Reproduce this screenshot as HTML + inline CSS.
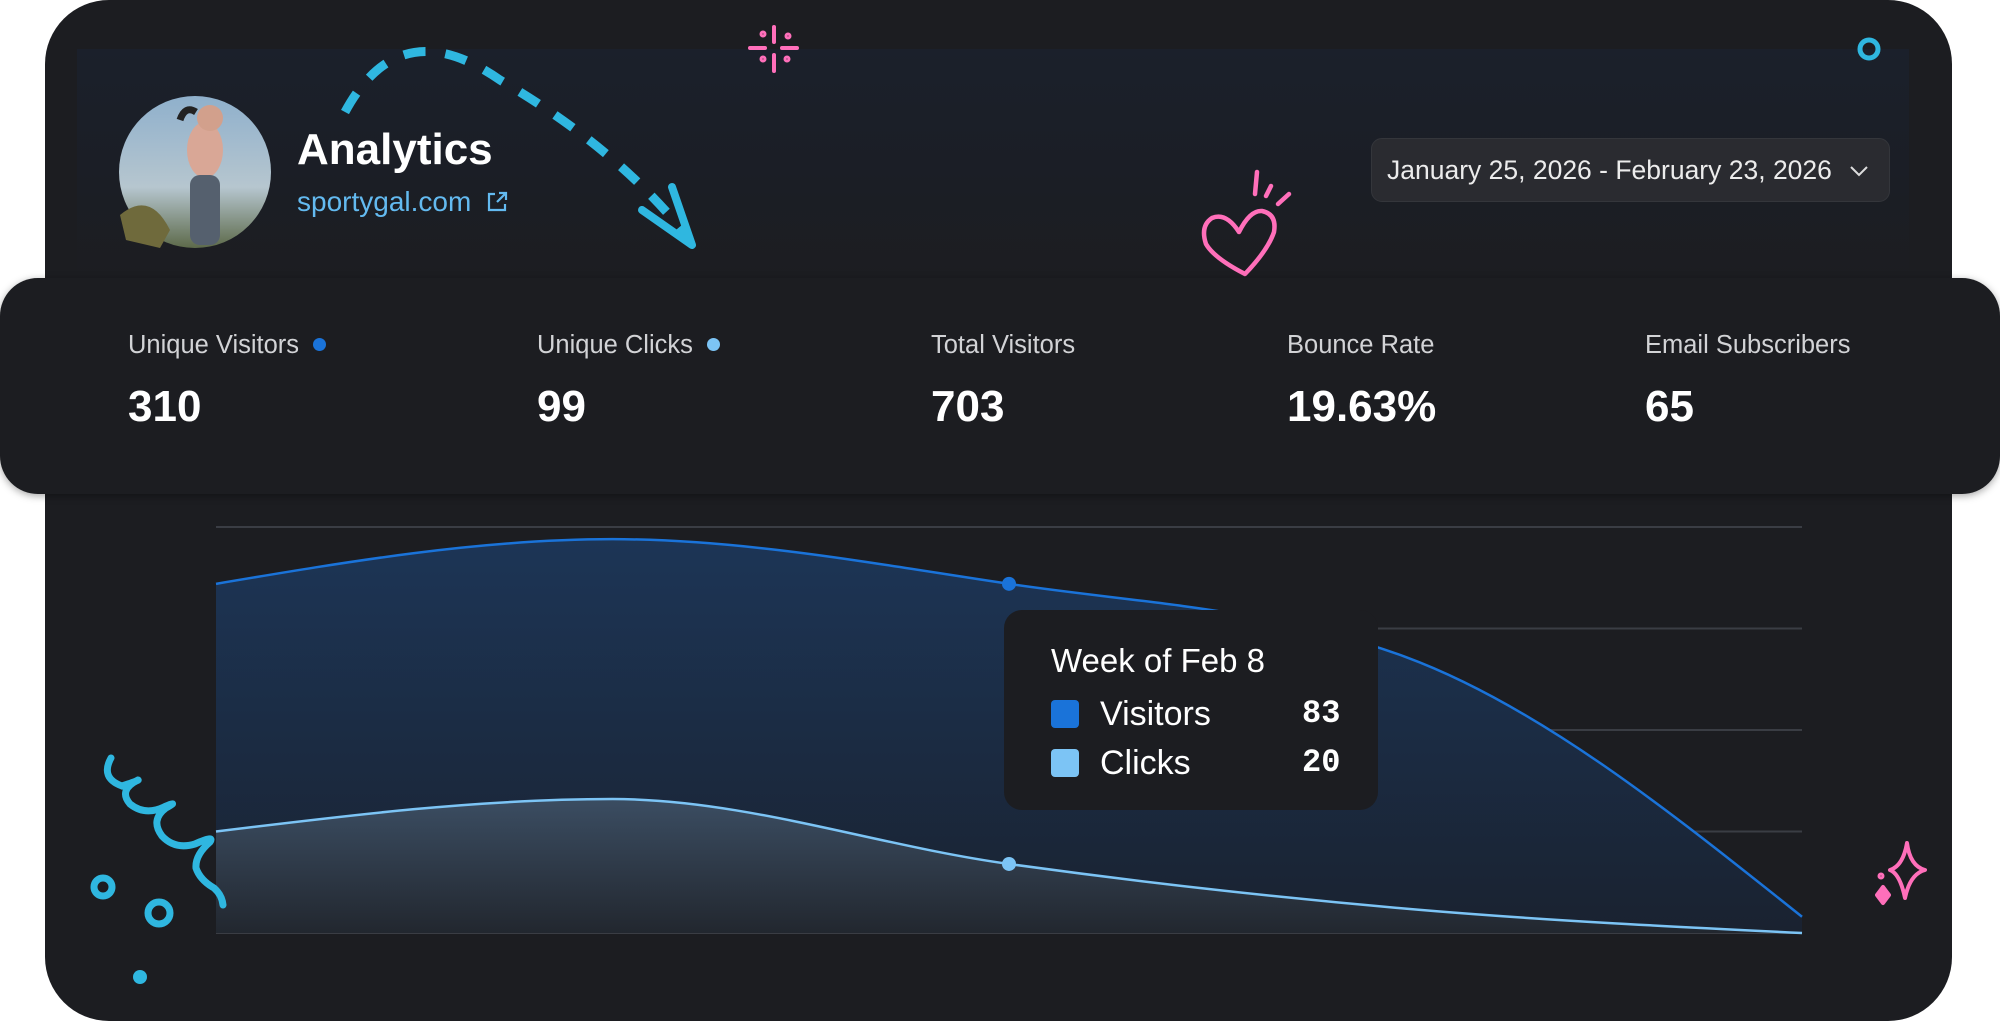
<!DOCTYPE html>
<html><head><meta charset="utf-8">
<style>
html,body{margin:0;padding:0;background:#fff;}
body{width:2000px;height:1021px;position:relative;overflow:hidden;font-family:"Liberation Sans",sans-serif;}
.abs{position:absolute;}
#card{left:45px;top:0;width:1907px;height:1021px;background:#1c1d21;border-radius:64px;}
#header{left:77px;top:49px;width:1832px;height:229px;background:linear-gradient(180deg,#1b202b 0%,#1b1e25 60%,#1c1d21 100%);}
#stats{left:0;top:278px;width:2000px;height:216px;background:#1c1d21;border-radius:38px;box-shadow:0 2px 8px rgba(0,0,0,.35);}
.lab{position:absolute;top:331px;font-size:25.5px;color:#d2d3d6;white-space:nowrap;}
.val{position:absolute;top:382px;font-size:44px;font-weight:bold;color:#fff;}
.dot{display:inline-block;width:13px;height:13px;border-radius:7px;margin-left:14px;vertical-align:2px;}
#date{left:1371px;top:138px;width:519px;height:64px;background:#2a2b30;border:1px solid #34363b;border-radius:11px;box-sizing:border-box;color:#ececec;font-size:26.5px;line-height:62px;padding-left:15px;white-space:nowrap;}
#tip{left:1004px;top:610px;width:374px;height:200px;background:#1c1d21;border-radius:18px;}
</style></head><body>
<div id="card" class="abs"></div>
<div id="header" class="abs"></div>

<svg class="abs" style="left:0;top:0" width="2000" height="1021">
  <defs>
    <linearGradient id="sky" x1="0" y1="0" x2="0" y2="1">
      <stop offset="0" stop-color="#8fb0cc"/><stop offset="0.6" stop-color="#b6c6cf"/><stop offset="1" stop-color="#5d6a4a"/>
    </linearGradient>
  </defs>
  <g>
    <circle cx="195" cy="172" r="76" fill="url(#sky)"/>
    <path d="M120 215 Q150 190 170 230 L160 248 L126 240 Z" fill="#6f6a3c"/>
    <ellipse cx="205" cy="150" rx="18" ry="28" fill="#d9a796"/>
    <rect x="190" y="175" width="30" height="70" rx="10" fill="#55606e"/>
    <circle cx="210" cy="118" r="13" fill="#d2a08c"/>
    <path d="M196 112 Q185 105 180 120" stroke="#222" stroke-width="7" fill="none"/>
  </g>
  <path d="M345 112 Q400 10 500 80 Q620 150 690 240" stroke="#2fb7e0" stroke-width="9" fill="none" stroke-dasharray="22 20"/>
  <path d="M642 210 L692 245 L672 187" stroke="#2fb7e0" stroke-width="8" fill="none" stroke-linecap="round" stroke-linejoin="round"/>
  <g stroke="#ff6fba" stroke-width="4" stroke-linecap="round">
    <line x1="774" y1="27" x2="774" y2="42"/><line x1="774" y1="55" x2="774" y2="71"/>
    <line x1="750" y1="48" x2="765" y2="48"/><line x1="782" y1="48" x2="797" y2="48"/>
    <circle cx="763" cy="34" r="1.5"/><circle cx="788" cy="36" r="1.5"/><circle cx="763" cy="59" r="1.5"/><circle cx="787" cy="59" r="1.5"/>
  </g>
  <g stroke="#ff6fba" stroke-width="4.5" fill="none" stroke-linecap="round" stroke-linejoin="round">
    <path d="M1239 232 Q1226 212 1212 218 Q1200 226 1206 244 Q1214 258 1245 274 Q1268 250 1274 232 Q1277 214 1262 211 Q1250 210 1239 232 Z"/>
    <line x1="1257" y1="172" x2="1255" y2="194"/><line x1="1271" y1="186" x2="1266" y2="196"/><line x1="1289" y1="194" x2="1278" y2="204"/>
  </g>
  <circle cx="1869" cy="49" r="9" stroke="#2fb7e0" stroke-width="5" fill="none"/>
  <g stroke="#ff6fba" stroke-width="4" fill="none" stroke-linejoin="round">
    <path d="M1907 843 Q1910 866 1925 870 Q1910 874 1905 898 Q1900 874 1890 870 Q1903 866 1907 843 Z"/>
    <path d="M1883 887 L1889 895 L1883 903 L1877 895 Z" fill="#ff6fba"/>
    <circle cx="1881" cy="876" r="1.5"/>
  </g>
</svg>

<div class="abs" style="left:297px;top:125px;font-size:44px;font-weight:bold;color:#fff">Analytics</div>
<div class="abs" style="left:297px;top:186px;font-size:28px;color:#63baf0">sportygal.com
  <svg width="24" height="24" viewBox="0 0 24 24" style="vertical-align:-3px;margin-left:6px"><path d="M10 4H4v16h16v-6" stroke="#63baf0" stroke-width="2.2" fill="none"/><path d="M12 12L21 3M14 3h7v7" stroke="#63baf0" stroke-width="2.2" fill="none"/></svg></div>

<div id="date" class="abs">January 25, 2026 - February 23, 2026
  <svg width="20" height="12" style="margin-left:10px;vertical-align:2px"><path d="M2 2l8 8 8-8" stroke="#ddd" stroke-width="2" fill="none"/></svg></div>

<div id="stats" class="abs"></div>
<div class="lab" style="left:128px">Unique Visitors<span class="dot" style="background:#1a73d9"></span></div>
<div class="val" style="left:128px">310</div>
<div class="lab" style="left:537px">Unique Clicks<span class="dot" style="background:#7cc4f5"></span></div>
<div class="val" style="left:537px">99</div>
<div class="lab" style="left:931px">Total Visitors</div>
<div class="val" style="left:931px">703</div>
<div class="lab" style="left:1287px">Bounce Rate</div>
<div class="val" style="left:1287px">19.63%</div>
<div class="lab" style="left:1645px">Email Subscribers</div>
<div class="val" style="left:1645px">65</div>

<svg id="chart" class="abs" style="left:0;top:0" width="2000" height="1021">
  <defs>
    <linearGradient id="gV" x1="0" y1="0" x2="0" y2="1"><stop offset="0" stop-color="#1c3556"/><stop offset="1" stop-color="#1a2230"/></linearGradient>
    <linearGradient id="gC" x1="0" y1="0" x2="0" y2="1"><stop offset="0" stop-color="#3b4d62"/><stop offset="1" stop-color="#22272f"/></linearGradient>
  </defs>
  <g id="grid"></g><g id="areas"></g>
</svg>

<svg class="abs" style="left:0;top:0" width="2000" height="1021">
  <g stroke="#2fb7e0" stroke-width="7" fill="none" stroke-linecap="round">
    <path d="M111 758 Q100 778 122 786 Q140 780 138 780 Q118 790 130 804 Q145 816 164 807 Q180 800 166 808 Q150 820 162 836 Q175 850 195 844 Q215 835 210 842 Q195 855 196 868 Q200 880 214 888 Q222 895 223 905"/>
    <circle cx="103" cy="887" r="9"/><circle cx="159" cy="913" r="11"/>
  </g>
  <circle cx="140" cy="977" r="7" fill="#2fb7e0"/>
</svg>

<div id="tip" class="abs">
  <div class="abs" style="left:47px;top:32px;font-size:33px;color:#fff">Week of Feb 8</div>
  <div class="abs" style="left:47px;top:90px;width:28px;height:28px;background:#1a73d9;border-radius:4px"></div>
  <div class="abs" style="left:96px;top:85px;font-size:34px;color:#fff">Visitors</div>
  <div class="abs" style="left:298px;top:85px;font-size:32px;font-weight:bold;color:#fff;font-family:'Liberation Mono',monospace">83</div>
  <div class="abs" style="left:47px;top:139px;width:28px;height:28px;background:#7cc4f5;border-radius:4px"></div>
  <div class="abs" style="left:96px;top:134px;font-size:34px;color:#fff">Clicks</div>
  <div class="abs" style="left:298px;top:134px;font-size:32px;font-weight:bold;color:#fff;font-family:'Liberation Mono',monospace">20</div>
</div>

<script>
const weeks = ["Jan 25","Feb 1","Feb 8","Feb 15","Feb 22"];
const visitors = [86, 97, 86, 68, 4];
const clicks = [25, 33, 17, 6, 0];
const gridTicks = [0, 25, 50, 75, 100];
const hoverIndex = 2;

const X0=216, X1=1802, Y0=933, Y1=527, YMAX=100;
const NS="http://www.w3.org/2000/svg";
function xs(i){return X0+(X1-X0)*i/(weeks.length-1);}
function ys(v){return Y0-(Y0-Y1)*v/YMAX;}
function monotonePath(pts){
  const n=pts.length, d=[], m=[];
  for(let i=0;i<n-1;i++) d.push((pts[i+1][1]-pts[i][1])/(pts[i+1][0]-pts[i][0]));
  for(let i=0;i<n;i++){
    if(i===0) m.push(d[0]); else if(i===n-1) m.push(d[n-2]);
    else if(d[i-1]*d[i]<=0) m.push(0);
    else { const h0=pts[i][0]-pts[i-1][0], h1=pts[i+1][0]-pts[i][0];
      const p=(d[i-1]*h1+d[i]*h0)/(h0+h1);
      m.push((Math.sign(d[i-1])+Math.sign(d[i]))*Math.min(Math.abs(d[i-1]),Math.abs(d[i]),0.5*Math.abs(p))); }
  }
  if(n>2){ m[0]=(3*d[0]-m[1])/2; m[n-1]=(3*d[n-2]-m[n-2])/2; }
  let s="M"+pts[0][0]+" "+pts[0][1];
  for(let i=0;i<n-1;i++){const h=(pts[i+1][0]-pts[i][0])/3;
    s+=" C"+(pts[i][0]+h)+" "+(pts[i][1]+m[i]*h)+" "+(pts[i+1][0]-h)+" "+(pts[i+1][1]-m[i+1]*h)+" "+pts[i+1][0]+" "+pts[i+1][1];}
  return s;
}
const grid=document.getElementById('grid');
gridTicks.forEach(t=>{
  const l=document.createElementNS(NS,'line');
  
  
  l.setAttribute('x1',X0);l.setAttribute('x2',X1);l.setAttribute('y1',ys(t));l.setAttribute('y2',ys(t));
  l.setAttribute('stroke','#3a3d44');l.setAttribute('stroke-width','2');
  grid.appendChild(l);
});
const areas=document.getElementById('areas');
function series(vals,fill,stroke,name){
  const pts=vals.map((v,i)=>[xs(i),ys(v)]);
  const line=monotonePath(pts);
  const a=document.createElementNS(NS,'path');
  
  
  a.setAttribute('d',line+" L"+X1+" "+Y0+" L"+X0+" "+Y0+" Z");a.setAttribute('fill',fill);
  areas.appendChild(a);
  const p=document.createElementNS(NS,'path');
  
  
  p.setAttribute('d',line);p.setAttribute('fill','none');p.setAttribute('stroke',stroke);p.setAttribute('stroke-width','2.5');
  areas.appendChild(p);
  const c=document.createElementNS(NS,'circle');
  
  
  c.setAttribute('cx',xs(hoverIndex));c.setAttribute('cy',ys(vals[hoverIndex]));c.setAttribute('r','7');c.setAttribute('fill',stroke);
  areas.appendChild(c);
}
series(visitors,'url(#gV)','#1a73d9','visitors');
series(clicks,'url(#gC)','#7cc4f5','clicks');
</script>
</body></html>
